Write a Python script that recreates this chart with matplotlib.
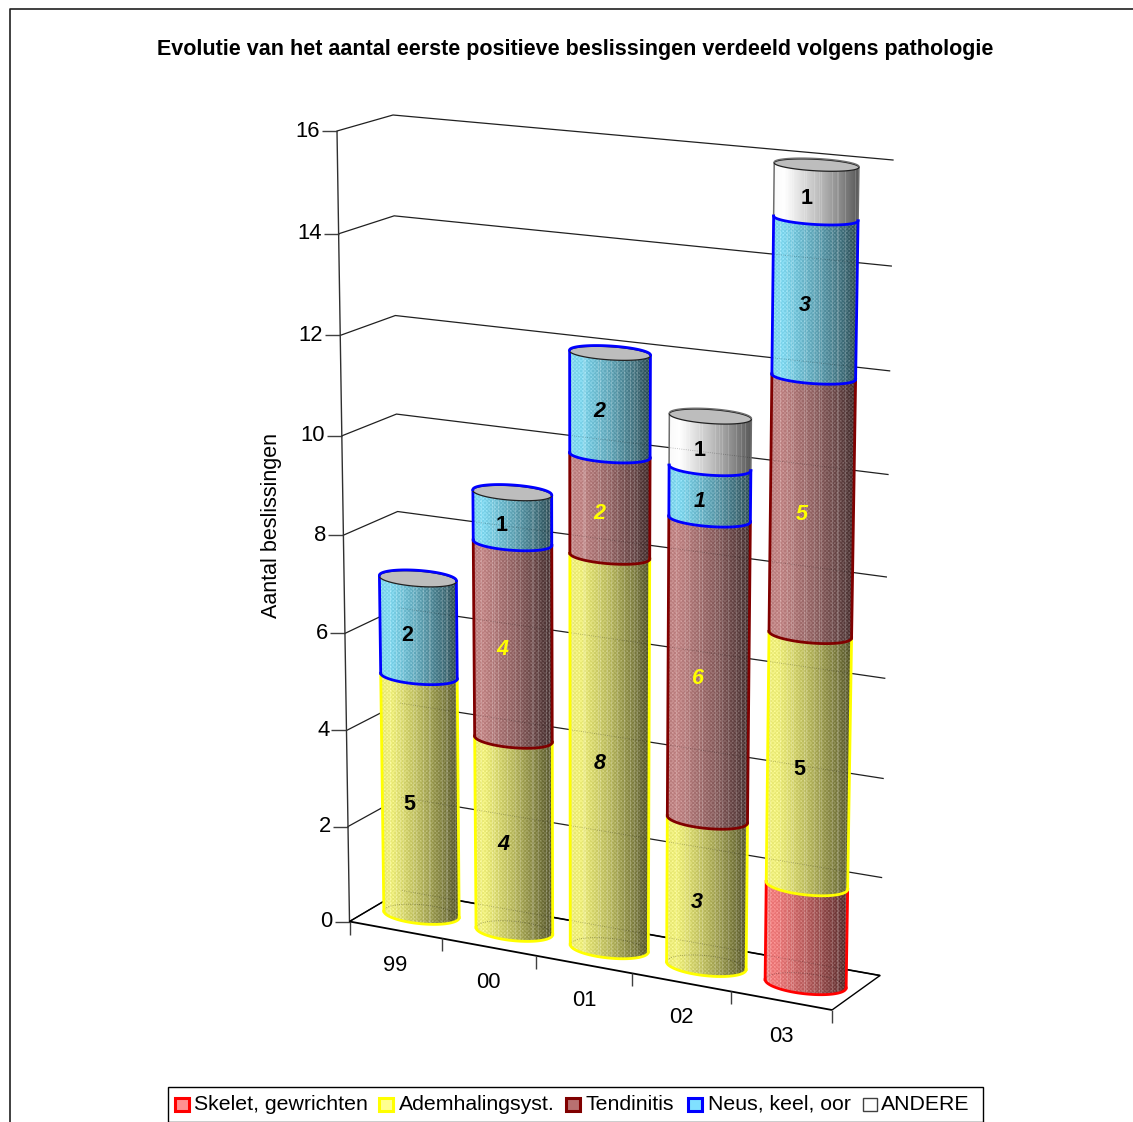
import matplotlib
matplotlib.use('Agg')
import matplotlib.pyplot as plt
import numpy as np
from matplotlib.patches import Polygon, Rectangle

years = ['99', '00', '01', '02', '03']
series_names = ['Skelet, gewrichten', 'Ademhalingsyst.', 'Tendinitis', 'Neus, keel, oor', 'ANDERE']
skelet = [0, 0, 0, 0, 2]
adem = [5, 4, 8, 3, 5]
tendinitis = [0, 4, 2, 6, 5]
neus = [2, 1, 2, 1, 3]
andere = [0, 0, 0, 1, 1]
y_ticks = [0, 2, 4, 6, 8, 10, 12, 14, 16]

series_values = [skelet, adem, tendinitis, neus, andere]
edge_colors = ['#ff0000', '#ffff00', '#800000', '#0000ff', '#6e6e6e']
body_colors = [(1.0, 0.50, 0.50), (1.0, 1.0, 0.50), (0.80, 0.54, 0.54), (0.52, 0.90, 1.0), (1.0, 1.0, 1.0)]
label_colors = ['black', 'black', '#ffff00', 'black', 'black']
# labels in these (year, series) spots are upright, the others italic
upright = {(0, 1), (0, 3), (1, 3), (3, 4), (4, 4), (4, 1)}
hidden = {(4, 0)}

FONT = 'Liberation Sans'
plt.rcParams['font.family'] = FONT

# box corners in pixels: floor and top of the 3D plot area
floor_fl, floor_fr = np.array([349.5, 921.5]), np.array([832.0, 1010.0])
floor_bl, floor_br = np.array([402.0, 890.5]), np.array([880.0, 975.5])
top_fl, top_fr = np.array([337.0, 131.0]), np.array([846.0, 180.0])
top_bl, top_br = np.array([393.0, 115.0]), np.array([893.0, 160.0])
VMAX = y_ticks[-1]


def persp(t, b):
    return (1 + b) * t / (1 + b * t)


def project(u, d, v):
    # u along the years 0-1, d into the depth 0-1, v in data units
    u, d, v = np.asarray(u, float), np.asarray(d, float), np.asarray(v, float)
    fu = persp(u, -0.0544)[..., None]
    fv = persp(v / VMAX, -0.0442)[..., None]
    dd = d[..., None]
    floor = (1 - dd) * ((1 - fu) * floor_fl + fu * floor_fr) + dd * ((1 - fu) * floor_bl + fu * floor_br)
    top = (1 - dd) * ((1 - fu) * top_fl + fu * top_fr) + dd * ((1 - fu) * top_bl + fu * top_br)
    return (1 - fv) * floor + fv * top


fig = plt.figure(figsize=(11.33, 11.22), dpi=100)
ax = fig.add_axes([0, 0, 1, 1])
ax.set_xlim(0, 1133)
ax.set_ylim(1122, 0)
ax.axis('off')


def line(p, q, lw=1.0, color='black', **kw):
    ax.plot([p[0], q[0]], [p[1], q[1]], color=color, lw=lw, solid_capstyle='butt', **kw)


# outer frame, open at the right and bottom
ax.plot([9.5, 9.5, 1133], [1122, 8.8, 8.8], color='#202020', lw=1.2)

ax.text(575, 49, 'Evolutie van het aantal eerste positieve beslissingen verdeeld volgens pathologie',
        ha='center', va='center', fontsize=15.5, fontweight='bold')
ax.text(271, 525, 'Aantal beslissingen', rotation=90, ha='center', va='center', fontsize=15.5)

# walls
for t in y_ticks:
    p0, p1, p2 = project(0, 0, t), project(0, 1, t), project(1, 1, t)
    ax.plot([p0[0], p1[0], p2[0]], [p0[1], p1[1], p2[1]], color='#202020', lw=0.9)
    line(p0 - [15, 0], p0, color='#404040')
    ax.text(p0[0] - 17, p0[1], str(t), ha='right', va='center', fontsize=15.8)
line(project(0, 0, 0), project(0, 0, VMAX), color='#303030')
line(project(0, 0, 0), project(0, 0, 0) + [0, 13], color='#404040')

# floor
line(project(0, 0, 0), project(1, 0, 0), lw=1.3)
line(project(1, 0, 0), project(1, 1, 0))
line(project(0, 0, 0), project(0, 1, 0), lw=1.0)
line(project(0, 1, 0), project(1, 1, 0), lw=1.2)
for i, name in enumerate(years):
    tick = project((i + 1) / len(years), 0, 0)
    line(tick, tick + [0, 13], color='#404040')
    mid = project((i + 0.5) / len(years), 0, 0)
    ax.text(mid[0], mid[1] + 35.5, name, ha='center', va='center', fontsize=15.8)

# fine raster used on the cylinder sides: dither plus pale vertical streaks
H, W = 1122, 1133
yy, xx = np.mgrid[0:H, 0:W]
dither = 0.5 * (((xx // 2 + yy // 2) % 2) == 0) + 0.5 * ((xx % 3 == 0) & (yy % 3 == 0))
streaks = ((xx % 13 == 0) | (xx % 17 == 5) | (xx % 23 == 9)).astype(float)


def side_image(color, xl, xr, y0, y1):
    x0, x1 = int(xl) - 3, int(xr) + 4
    y0, y1 = int(y0) - 3, int(y1) + 4
    s = np.clip((xx[y0:y1, x0:x1] - xl) / (xr - xl), 0, 1)
    shade = np.interp(s, [0, 0.12, 0.5, 0.8, 1], [0.98, 1.0, 0.76, 0.52, 0.34])
    rgb = np.array(color)[None, None, :] * shade[..., None]
    if color != (1.0, 1.0, 1.0):
        d = dither[y0:y1, x0:x1, None]
        rgb = rgb + (1 - rgb) * 0.20 * d - rgb * 0.08 * (1 - d)
    rgb = rgb + (1 - rgb) * 0.16 * streaks[y0:y1, x0:x1, None]
    return np.clip(rgb, 0, 1), [x0, x1, y1, y0]


def arcs(cu, cd, ru, rd, v):
    # front and back half of the ring at height v, split at its left and right ends
    th = np.linspace(0, 2 * np.pi, 241)[:-1]
    pts = project(cu + ru * np.cos(th), cd + rd * np.sin(th), np.full_like(th, v))
    a, b = np.argmin(pts[:, 0]), np.argmax(pts[:, 0])
    rolled = np.roll(pts, -a, axis=0)
    n = (b - a) % len(pts)
    arc1, arc2 = rolled[:n + 1], np.vstack([rolled[n:], rolled[:1]])[::-1]
    return (arc1, arc2) if arc1[:, 1].mean() > arc2[:, 1].mean() else (arc2, arc1)


RU, RD = 0.077, 0.25
CD = 0.5
for i in range(len(years)):
    cu = (i + 0.5) / len(years)
    base = 0
    last = None
    base_back = arcs(cu, CD, RU, RD, 0)[1]
    for j in range(len(series_names)):
        val = series_values[j][i]
        if val == 0:
            continue
        low = arcs(cu, CD, RU, RD, base)[0]
        high = arcs(cu, CD, RU, RD, base + val)[0]
        poly = np.vstack([low, high[::-1]])
        clip = Polygon(poly, closed=True, transform=ax.transData)
        img, ext = side_image(body_colors[j], poly[:, 0].min(), poly[:, 0].max(), poly[:, 1].min(), poly[:, 1].max())
        im = ax.imshow(img, extent=ext, interpolation='nearest', aspect='auto', zorder=3)
        im.set_clip_path(clip)
        # wall lines and the hidden base rim showing through faintly
        for t in y_ticks:
            p1, p2 = project(0, 1, t), project(1, 1, t)
            ln, = ax.plot([p1[0], p2[0]], [p1[1], p2[1]], color='black', lw=0.6, ls=':', alpha=0.3, zorder=3.1)
            ln.set_clip_path(clip)
        ln, = ax.plot(base_back[:, 0], base_back[:, 1], color='black', lw=0.6, ls=':', alpha=0.4, zorder=3.1)
        ln.set_clip_path(clip)
        lw = 1.1 if j == 4 else 2.0
        ax.plot(poly[[0, -1], 0], poly[[0, -1], 1], color=edge_colors[j], lw=lw, zorder=4)
        n = len(low)
        ax.plot(poly[[n - 1, n], 0], poly[[n - 1, n], 1], color=edge_colors[j], lw=lw, zorder=4)
        # the grey ANDERE part keeps the blue rim of the part below it
        rim = edge_colors[last] if j == 4 and last is not None else edge_colors[j]
        ax.plot(low[:, 0], low[:, 1], color=rim, lw=2.0, zorder=4.2)
        if (i, j) not in hidden:
            p = project(cu, 0.3, base + val / 2) + [0, 3]
            ax.text(p[0], p[1], str(val), ha='center', va='center', fontsize=15.5, fontweight='bold',
                    fontstyle='normal' if (i, j) in upright else 'italic', color=label_colors[j], zorder=6)
        base += val
        last = j
    # top surface
    th = np.linspace(0, 2 * np.pi, 121)
    cap = project(cu + RU * np.cos(th), CD + RD * np.sin(th), np.full_like(th, base))
    ax.add_patch(Polygon(cap, closed=True, facecolor='#bdbdbd', edgecolor='#202020', lw=0.9, zorder=4.5))
    back = arcs(cu, CD, RU, RD, base)[1]
    ax.plot(back[:, 0], back[:, 1] - 0.8, color=edge_colors[last], lw=2.0 if last != 4 else 1.0, zorder=4.6)

# legend box
ax.add_patch(Rectangle((168, 1087), 814.5, 34.5, facecolor='white', edgecolor='black', lw=1.0, zorder=7))
swatch_x = [174, 378, 565, 687, 862]
text_x = [194, 399, 586, 708, 881]
legend_fill = ['#ff9090', '#ffff90', '#b87070', '#80e0ff', 'white']
legend_edge = ['#ff0000', '#ffff00', '#800000', '#0000ff', '#404040']
for name, sx, tx, fc, ec, j in zip(series_names, swatch_x, text_x, legend_fill, legend_edge, range(5)):
    lw = 1.0 if j == 4 else 2.2
    ax.add_patch(Rectangle((sx + 0.5, 1097.5), 14, 13, facecolor=fc, edgecolor=ec, lw=lw, zorder=8))
    ax.text(tx, 1104, name, ha='left', va='center', fontsize=15.35, zorder=8)

fig.savefig('out.png', dpi=100)
